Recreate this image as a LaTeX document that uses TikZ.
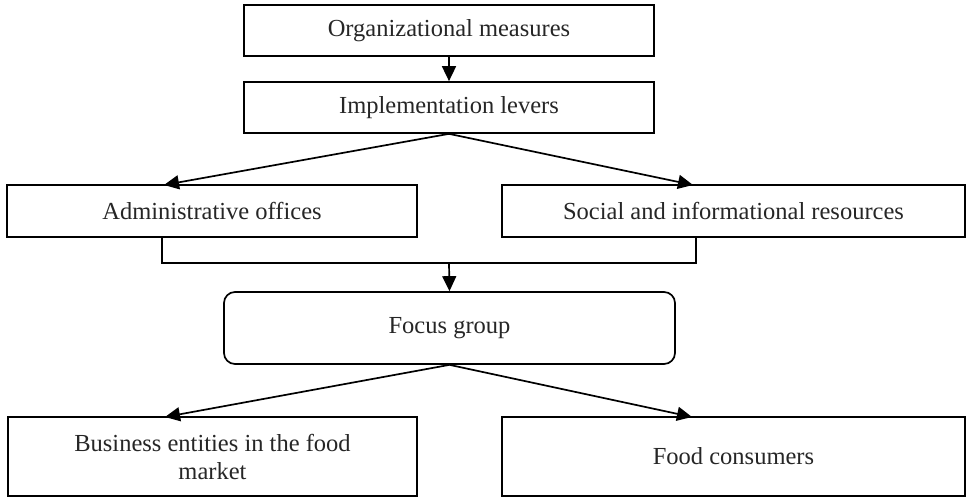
\documentclass[tikz,border=0pt]{standalone}
\usepackage{fontspec}
\setmainfont{Liberation Serif}
\usetikzlibrary{arrows.meta}
\begin{document}
\begin{tikzpicture}[x=1pt,y=-1pt,
  box/.style={draw, line width=1.7pt, inner sep=0pt, align=center,
    font=\fontsize{24.5}{28}\selectfont, text=black!85},
  conn/.style={line width=1.7pt},
  arr/.style={line width=1.7pt, -{Triangle[length=15pt,width=14pt]}}]
\useasboundingbox (0,0) rectangle (967,497);
\node[box, minimum width=410pt, minimum height=51pt] (om) at (449,30.5) {Organizational measures};
\node[box, minimum width=410pt, minimum height=51pt] (il) at (449,107.5) {Implementation levers};
\node[box, minimum width=410pt, minimum height=52pt] (ad) at (212,211) {Administrative offices};
\node[box, minimum width=463pt, minimum height=52pt] (so) at (733.5,211) {Social and informational resources};
\node[box, rounded corners=11pt, minimum width=451pt, minimum height=72pt] (fg) at (449.5,328) {Focus group};
\node[box, minimum width=409pt, minimum height=79pt] (be) at (212.5,456.5) {Business entities in the food\\market};
\node[box, minimum width=463pt, minimum height=79pt] (fc) at (733.5,456.5) {Food consumers};
\coordinate (adT) at (164,185);
\coordinate (soT) at (693,185);
\coordinate (beT) at (165,417);
\coordinate (fcT) at (692,417);
\coordinate (aX) at (162,0);
\coordinate (sX) at (696,0);
\coordinate (j) at (449,263);
\draw[arr] (om.south) -- (il.north);
\draw[arr] (il.south) -- (adT);
\draw[arr] (il.south) -- (soT);
\draw[conn] (ad.south -| aX) |- (j) -| (so.south -| sX);
\draw[arr] (j) -- (fg.north);
\draw[arr] (fg.south) -- (beT);
\draw[arr] (fg.south) -- (fcT);
\end{tikzpicture}
\end{document}
